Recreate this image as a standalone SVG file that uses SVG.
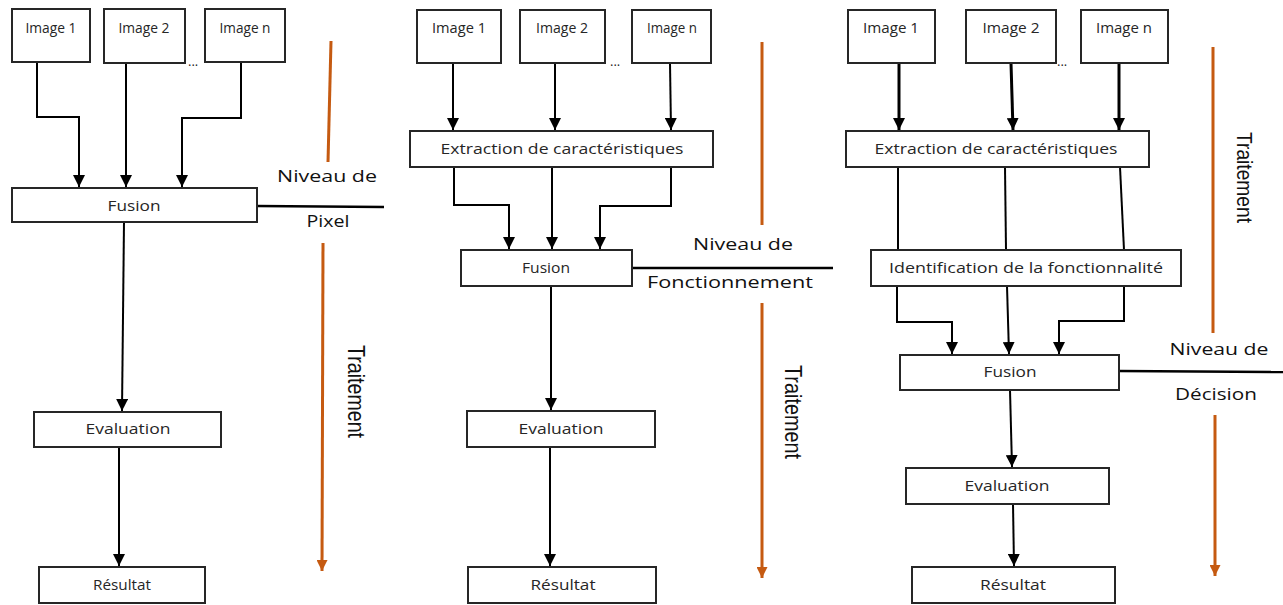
<svg xmlns="http://www.w3.org/2000/svg" width="1283" height="605" viewBox="0 0 1283 605">
  <style>
    .box { fill: #ffffff; stroke: #262626; stroke-width: 2; }
    .lbl { font-family: "Open Sans", "Liberation Sans", sans-serif; font-size: 14.5px; fill: #262626; text-anchor: middle; }
    .side { font-family: "Open Sans", "Liberation Sans", sans-serif; font-size: 17px; fill: #111111; text-anchor: middle; }
    .vert { font-family: "Liberation Sans", Arial, sans-serif; font-size: 19.5px; fill: #111111; }
    .dots { font-family: "Open Sans", "Liberation Sans", sans-serif; font-size: 13px; fill: #262626; }
    .conn { fill: none; stroke: #000000; stroke-width: 2; }
    .arr { marker-end: url(#head); }
    .thick { stroke-width: 3; }
    .level { fill: none; stroke: #000000; stroke-width: 2.5; }
    .proc { fill: none; stroke: #C55A11; stroke-width: 3; }
    .proc-arr { marker-end: url(#ohead); }
  </style>
  <defs>
    <marker id="head" markerUnits="userSpaceOnUse" markerWidth="12" markerHeight="12" refX="12" refY="6" orient="auto">
      <path d="M0,0 L12,6 L0,12 z" fill="#000000"/>
    </marker>
    <marker id="ohead" markerUnits="userSpaceOnUse" markerWidth="11" markerHeight="11" refX="11" refY="5.5" orient="auto">
      <path d="M0,0 L11,5.5 L0,11 z" fill="#C55A11"/>
    </marker>
  </defs>

  <rect width="1283" height="605" fill="#ffffff"/>

  <!-- Connectors -->
  <g id="connectors">
    <!-- pixel level -->
    <path class="conn arr" d="M37,63 V117 H79 V187"/>
    <path class="conn arr" d="M126,63 V187"/>
    <path class="conn arr" d="M241,63 V118 H182 V187"/>
    <path class="conn arr" d="M124,222 L122,411"/>
    <path class="conn arr" d="M119,447 V566"/>

    <!-- feature level -->
    <path class="conn arr" d="M453,63 V130"/>
    <path class="conn arr" d="M555,63 V130"/>
    <path class="conn arr" d="M670,63 L671,130"/>
    <path class="conn arr" d="M454,167 V205 H509 V249"/>
    <path class="conn arr" d="M552,167 V249"/>
    <path class="conn arr" d="M671,167 V206 H600 V249"/>
    <path class="conn arr" d="M551,286 V410"/>
    <path class="conn arr" d="M550,447 V566"/>

    <!-- decision level -->
    <path class="conn arr thick" d="M899,63 V130"/>
    <path class="conn arr thick" d="M1011,63 L1013,130"/>
    <path class="conn arr thick" d="M1119,63 V130"/>
    <path class="conn" d="M898,167 V250"/>
    <path class="conn" d="M1005,167 L1006,250"/>
    <path class="conn" d="M1120,167 L1124,250"/>
    <path class="conn arr" d="M897,286 V322 H952 V354"/>
    <path class="conn arr" d="M1007,286 L1009,354"/>
    <path class="conn arr" d="M1124,286 V321 H1059 V354"/>
    <path class="conn arr" d="M1010,390 L1012,467"/>
    <path class="conn arr" d="M1013,504 L1014,566"/>

    <!-- level separators -->
    <line class="level" x1="257" y1="206" x2="384" y2="207"/>
    <line class="level" x1="632" y1="268" x2="833" y2="268"/>
    <line class="level" x1="1119" y1="371" x2="1283" y2="372"/>

    <!-- processing direction -->
    <line class="proc" x1="331" y1="41" x2="328" y2="162"/>
    <line class="proc proc-arr" x1="323" y1="243" x2="322" y2="571"/>
    <line class="proc" x1="762" y1="42" x2="762" y2="225"/>
    <line class="proc proc-arr" x1="762" y1="303" x2="762" y2="578"/>
    <line class="proc" x1="1213" y1="47" x2="1213" y2="333"/>
    <line class="proc proc-arr" x1="1215" y1="415" x2="1215" y2="576"/>
  </g>

  <!-- Pixel level column -->
  <g id="p1-image1"><rect class="box" x="12" y="9" width="78" height="53"/><text class="lbl" x="51" y="33" textLength="51" lengthAdjust="spacingAndGlyphs">Image 1</text></g>
  <g id="p1-image2"><rect class="box" x="104" y="9" width="81" height="54"/><text class="lbl" x="144" y="33" textLength="51" lengthAdjust="spacingAndGlyphs">Image 2</text></g>
  <g id="p1-imagen"><rect class="box" x="205" y="9" width="80" height="53"/><text class="lbl" x="245" y="33" textLength="51" lengthAdjust="spacingAndGlyphs">Image n</text></g>
  <text class="dots" x="188" y="66">...</text>
  <g id="p1-fusion"><rect class="box" x="12" y="188" width="245" height="34"/><text class="lbl" x="134" y="211" textLength="53" lengthAdjust="spacingAndGlyphs">Fusion</text></g>
  <g id="p1-evaluation"><rect class="box" x="34" y="412" width="187" height="35"/><text class="lbl" x="128" y="434" textLength="85" lengthAdjust="spacingAndGlyphs">Evaluation</text></g>
  <g id="p1-resultat"><rect class="box" x="39" y="567" width="166" height="36"/><text class="lbl" x="122" y="590" textLength="58" lengthAdjust="spacingAndGlyphs">Résultat</text></g>
  <g id="p1-labels">
    <text class="side" x="327" y="182" textLength="100" lengthAdjust="spacingAndGlyphs">Niveau de</text>
    <text class="side" x="328" y="227" textLength="43" lengthAdjust="spacingAndGlyphs">Pixel</text>
    <text class="vert" transform="translate(348,345) scale(1.2,1) rotate(90)" textLength="93" lengthAdjust="spacingAndGlyphs">Traitement</text>
  </g>

  <!-- Feature level column -->
  <g id="p2-image1"><rect class="box" x="417" y="10" width="84" height="53"/><text class="lbl" x="459" y="33" textLength="54" lengthAdjust="spacingAndGlyphs">Image 1</text></g>
  <g id="p2-image2"><rect class="box" x="520" y="10" width="85" height="53"/><text class="lbl" x="562" y="33" textLength="52" lengthAdjust="spacingAndGlyphs">Image 2</text></g>
  <g id="p2-imagen"><rect class="box" x="632" y="10" width="79" height="53"/><text class="lbl" x="672" y="33" textLength="50" lengthAdjust="spacingAndGlyphs">Image n</text></g>
  <text class="dots" x="610" y="66">...</text>
  <g id="p2-extraction"><rect class="box" x="410" y="131" width="303" height="36"/><text class="lbl" x="562" y="154" textLength="243" lengthAdjust="spacingAndGlyphs">Extraction de caractéristiques</text></g>
  <g id="p2-fusion"><rect class="box" x="461" y="250" width="171" height="36"/><text class="lbl" x="546" y="273" textLength="48" lengthAdjust="spacingAndGlyphs">Fusion</text></g>
  <g id="p2-evaluation"><rect class="box" x="467" y="411" width="188" height="36"/><text class="lbl" x="561" y="434" textLength="85" lengthAdjust="spacingAndGlyphs">Evaluation</text></g>
  <g id="p2-resultat"><rect class="box" x="468" y="567" width="188" height="36"/><text class="lbl" x="563" y="590" textLength="65" lengthAdjust="spacingAndGlyphs">Résultat</text></g>
  <g id="p2-labels">
    <text class="side" x="743" y="250" textLength="100" lengthAdjust="spacingAndGlyphs">Niveau de</text>
    <text class="side" x="730" y="288" textLength="166" lengthAdjust="spacingAndGlyphs">Fonctionnement</text>
    <text class="vert" transform="translate(785,365) scale(1.2,1) rotate(90)" textLength="94" lengthAdjust="spacingAndGlyphs">Traitement</text>
  </g>

  <!-- Decision level column -->
  <g id="p3-image1"><rect class="box" x="848" y="10" width="87" height="53"/><text class="lbl" x="891" y="33" textLength="56" lengthAdjust="spacingAndGlyphs">Image 1</text></g>
  <g id="p3-image2"><rect class="box" x="966" y="10" width="90" height="53"/><text class="lbl" x="1011" y="33" textLength="57" lengthAdjust="spacingAndGlyphs">Image 2</text></g>
  <g id="p3-imagen"><rect class="box" x="1081" y="10" width="87" height="53"/><text class="lbl" x="1124" y="33" textLength="56" lengthAdjust="spacingAndGlyphs">Image n</text></g>
  <text class="dots" x="1057" y="66">...</text>
  <g id="p3-extraction"><rect class="box" x="846" y="131" width="303" height="36"/><text class="lbl" x="996" y="154" textLength="243" lengthAdjust="spacingAndGlyphs">Extraction de caractéristiques</text></g>
  <g id="p3-identification"><rect class="box" x="871" y="250" width="310" height="36"/><text class="lbl" x="1026" y="273" textLength="274" lengthAdjust="spacingAndGlyphs">Identification de la fonctionnalité</text></g>
  <g id="p3-fusion"><rect class="box" x="900" y="355" width="219" height="35"/><text class="lbl" x="1010" y="377" textLength="53" lengthAdjust="spacingAndGlyphs">Fusion</text></g>
  <g id="p3-evaluation"><rect class="box" x="906" y="468" width="203" height="36"/><text class="lbl" x="1007" y="491" textLength="85" lengthAdjust="spacingAndGlyphs">Evaluation</text></g>
  <g id="p3-resultat"><rect class="box" x="912" y="567" width="203" height="36"/><text class="lbl" x="1013" y="590" textLength="66" lengthAdjust="spacingAndGlyphs">Résultat</text></g>
  <g id="p3-labels">
    <text class="side" x="1219" y="355" textLength="99" lengthAdjust="spacingAndGlyphs">Niveau de</text>
    <text class="side" x="1216" y="400" textLength="82" lengthAdjust="spacingAndGlyphs">Décision</text>
    <text class="vert" transform="translate(1237,132) scale(1.1,1) rotate(90)" textLength="91" lengthAdjust="spacingAndGlyphs">Traitement</text>
  </g>
</svg>
